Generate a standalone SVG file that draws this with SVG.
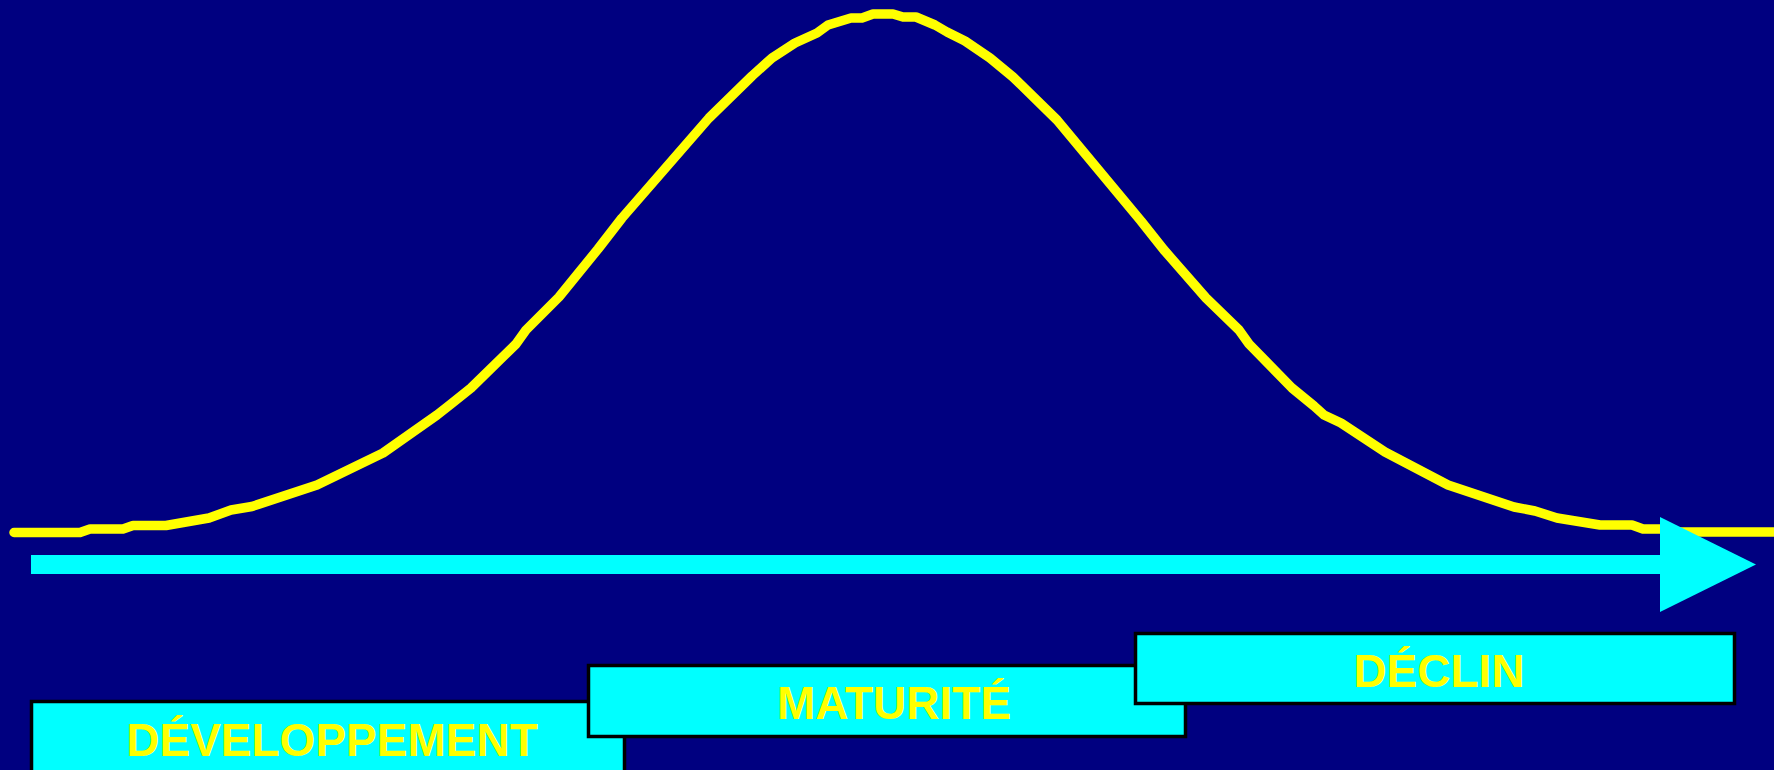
<svg xmlns="http://www.w3.org/2000/svg" width="1774" height="770" viewBox="0 0 1774 770">
  <style>
    .box { fill: #00FFFF; stroke: #000000; stroke-width: 3.5; }
    .label { font-family: "Liberation Sans", Arial, sans-serif; font-weight: bold; font-size: 46px; fill: #FFFF00; text-anchor: middle; }
    .curve { fill: none; stroke: #FFFF00; stroke-width: 9.5; stroke-linejoin: round; stroke-linecap: round; }
    .axis { fill: #00FFFF; }
  </style>
  <rect x="0" y="0" width="1774" height="770" fill="#000080"/>
  <g id="curve">
    <polyline class="curve" points="14,532.5 80,532.5 90,529 123,529 133,525.5 166,525.5 209,518 231,510 252,506.5 317,485 383,453 437,415 451,404 471,388 516,344 526,330 559,297 598,249 622,218 709,118 752,76 772,58 795,43 817,33 828,25 851,18 862,18 873,14 893,14 903,17 916,17 935,25 947,32 965,41 990,58 1013,77 1057,120 1141,221 1164,250 1206,298 1239,330 1249,344 1292,388 1314,406 1324,415 1341,423 1385,452 1448,485 1514,507 1535,511 1557,518 1600,525 1632,525 1643,529 1663,529 1676,532 1790,532"/>
  </g>
  <g id="connectors">
    <rect class="axis" x="31" y="555" width="1630" height="19"/>
    <polygon class="axis" points="1660,517 1756,564.5 1660,612"/>
  </g>
  <g id="developpement">
    <rect class="box" x="31.5" y="701.5" width="593" height="100"/>
    <text class="label" x="332" y="756">DÉVELOPPEMENT</text>
  </g>
  <g id="maturite">
    <rect class="box" x="588.5" y="665.5" width="597" height="71"/>
    <text class="label" x="894" y="719">MATURITÉ</text>
  </g>
  <g id="declin">
    <rect class="box" x="1135.5" y="633.5" width="599" height="70"/>
    <text class="label" x="1439" y="687">DÉCLIN</text>
  </g>
</svg>
